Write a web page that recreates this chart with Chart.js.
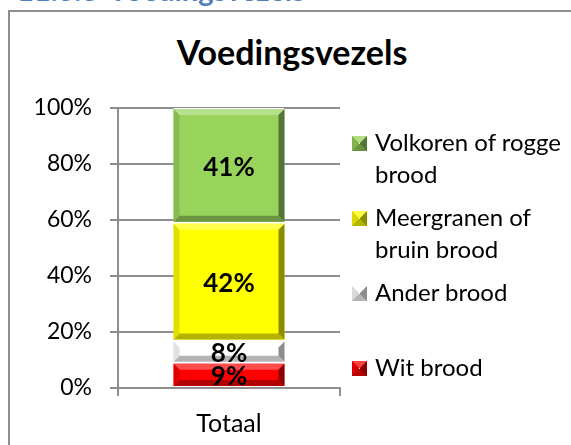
<!DOCTYPE html>
<html>
<head>
<meta charset="utf-8">
<script src="https://cdn.jsdelivr.net/npm/chart.js@4.4.1/dist/chart.umd.min.js"></script>
<style>
  html, body { margin: 0; padding: 0; background: #fff; }
  body { width: 571px; height: 445px; position: relative; overflow: hidden; font-family: Lato, "Open Sans", sans-serif; }
  #frame { position: absolute; left: 8px; top: 10px; width: 700px; height: 600px; border-left: 2px solid #8e8e8e; border-top: 2px solid #8e8e8e; box-sizing: border-box; }
  .hdr { position: absolute; top: -25px; font-weight: bold; font-size: 29px; line-height: 29px; color: #4f81bd; white-space: nowrap; }
  #title { position: absolute; top: 35px; left: 292px; transform: translateX(-50%); font-weight: bold; font-size: 34px; line-height: 34px; color: #000; white-space: nowrap; }
  #chart { position: absolute; left: 0; top: 0; }
  .leg { position: absolute; left: 375px; width: 196px; font-size: 24px; line-height: 32px; color: #000; white-space: nowrap; }
  .sw { position: absolute; left: -23px; top: 10px; width: 1px; height: 1px; border-style: solid; border-width: 7px; }
</style>
</head>
<body>
<div class="hdr" id="hdrNum" style="left:17px"></div>
<div class="hdr" id="hdrTxt" style="left:108px"></div>
<div id="frame"></div>
<div id="title"></div>
<canvas id="chart" width="571" height="445"></canvas>
<div id="legend"></div>
<script>
// ---- data ----
const headerNumber = "11.3.3";
const chartTitle = "Voedingsvezels";
const categories = ["Totaal"];
const seriesNames = ["Wit brood", "Ander brood", "Meergranen of bruin brood", "Volkoren of rogge brood"];
const legendLines = [["Wit brood"], ["Ander brood"], ["Meergranen of", "bruin brood"], ["Volkoren of rogge", "brood"]];
const witBrood = [9];
const anderBrood = [8];
const meergranenBrood = [42];
const volkorenBrood = [41];
const yTickValues = [0, 20, 40, 60, 80, 100];

// ---- styles ----
const faceColors = ["#ff0000", "#ffffff", "#ffff00", "#98d45c"];
const legendTops = [351, 276, 201, 126];

function mix(hex, target, t) {
  const n = parseInt(hex.slice(1), 16);
  const r = (n >> 16) & 255, g = (n >> 8) & 255, b = n & 255;
  const tv = target === 'white' ? 255 : 0;
  const f = c => Math.round(c + (tv - c) * t);
  return `rgb(${f(r)},${f(g)},${f(b)})`;
}

document.getElementById('hdrNum').textContent = headerNumber;
document.getElementById('hdrTxt').textContent = chartTitle;
document.getElementById('title').textContent = chartTitle;

// HTML legend
const legend = document.getElementById('legend');
seriesNames.forEach((name, i) => {
  const d = document.createElement('div');
  d.className = 'leg';
  d.style.top = legendTops[i] + 'px';
  d.title = name;
  const sw = document.createElement('span');
  sw.className = 'sw';
  const c = faceColors[i];
  sw.style.borderTopColor = mix(c, 'white', 0.25);
  sw.style.borderLeftColor = mix(c, 'black', 0.15);
  sw.style.borderRightColor = mix(c, 'black', 0.45);
  sw.style.borderBottomColor = mix(c, 'black', 0.3);
  d.appendChild(sw);
  legendLines[i].forEach((ln, k) => {
    if (k > 0) d.appendChild(document.createElement('br'));
    d.appendChild(document.createTextNode(ln));
  });
  legend.appendChild(d);
});

const valueArrays = [witBrood, anderBrood, meergranenBrood, volkorenBrood];

// bevel + value labels
const bevelPlugin = {
  id: 'bevel',
  afterDatasetsDraw(chart) {
    const ctx = chart.ctx;
    chart.data.datasets.forEach((ds, di) => {
      const meta = chart.getDatasetMeta(di);
      meta.data.forEach((el, i) => {
        const p = el.getProps(['x', 'y', 'base', 'width'], true);
        const l = p.x - p.width / 2, r = p.x + p.width / 2;
        const t = Math.min(p.y, p.base) + 1, b = Math.max(p.y, p.base) - 1;
        const s = Math.min(6, (b - t) / 2 - 2);
        const c = faceColors[di];
        ctx.save();
        const poly = (pts, col) => {
          ctx.beginPath();
          ctx.moveTo(pts[0][0], pts[0][1]);
          for (let k = 1; k < pts.length; k++) ctx.lineTo(pts[k][0], pts[k][1]);
          ctx.closePath();
          ctx.fillStyle = col;
          ctx.fill();
        };
        poly([[l, t], [r, t], [r - s, t + s], [l + s, t + s]], mix(c, 'white', 0.3));
        poly([[l, b], [r, b], [r - s, b - s], [l + s, b - s]], mix(c, 'black', 0.3));
        poly([[l, t], [l + s, t + s], [l + s, b - s], [l, b]], mix(c, 'black', 0.12));
        poly([[r, t], [r - s, t + s], [r - s, b - s], [r, b]], mix(c, 'black', 0.45));
        // label
        ctx.fillStyle = '#000';
        ctx.font = 'bold 26px Lato';
        ctx.textAlign = 'center';
        ctx.textBaseline = 'middle';
        ctx.fillText(valueArrays[di][i] + '%', p.x, (t + b) / 2 + 2);
        ctx.restore();
      });
    });
  }
};

Chart.defaults.font.family = 'Lato';
Chart.defaults.color = '#000';

new Chart(document.getElementById('chart'), {
  type: 'bar',
  data: {
    labels: categories,
    datasets: seriesNames.map((name, i) => ({
      label: name,
      data: valueArrays[i],
      backgroundColor: faceColors[i],
      borderColor: '#ffffff',
      borderWidth: { top: 1, bottom: 1, left: 0, right: 0 },
      borderSkipped: false,
      barPercentage: 0.5,
      categoryPercentage: 1.0
    }))
  },
  options: {
    responsive: false,
    animation: false,
    devicePixelRatio: 1,
    layout: { padding: { left: 10, right: 231, top: 108, bottom: 0 } },
    plugins: { legend: { display: false }, title: { display: false }, tooltip: { enabled: false } },
    scales: {
      x: {
        stacked: true,
        grid: { display: true, drawOnChartArea: false, drawTicks: true, tickLength: 8, color: '#8e8e8e', lineWidth: 2 },
        border: { color: '#8e8e8e', width: 2 },
        ticks: { font: { size: 25 }, color: '#000', padding: 13 },
        afterFit(scale) { scale.height = 57; }
      },
      y: {
        stacked: true,
        min: 0, max: 100,
        afterBuildTicks(scale) { scale.ticks = yTickValues.map(v => ({ value: v })); },
        grid: { color: '#8e8e8e', lineWidth: 2, tickLength: 8 },
        border: { color: '#8e8e8e', width: 2 },
        ticks: { font: { size: 23 }, color: '#000', padding: 18, callback: v => v + '%' },
        afterFit(scale) { scale.width = 108; }
      }
    }
  },
  plugins: [bevelPlugin]
});
</script>
</body>
</html>
